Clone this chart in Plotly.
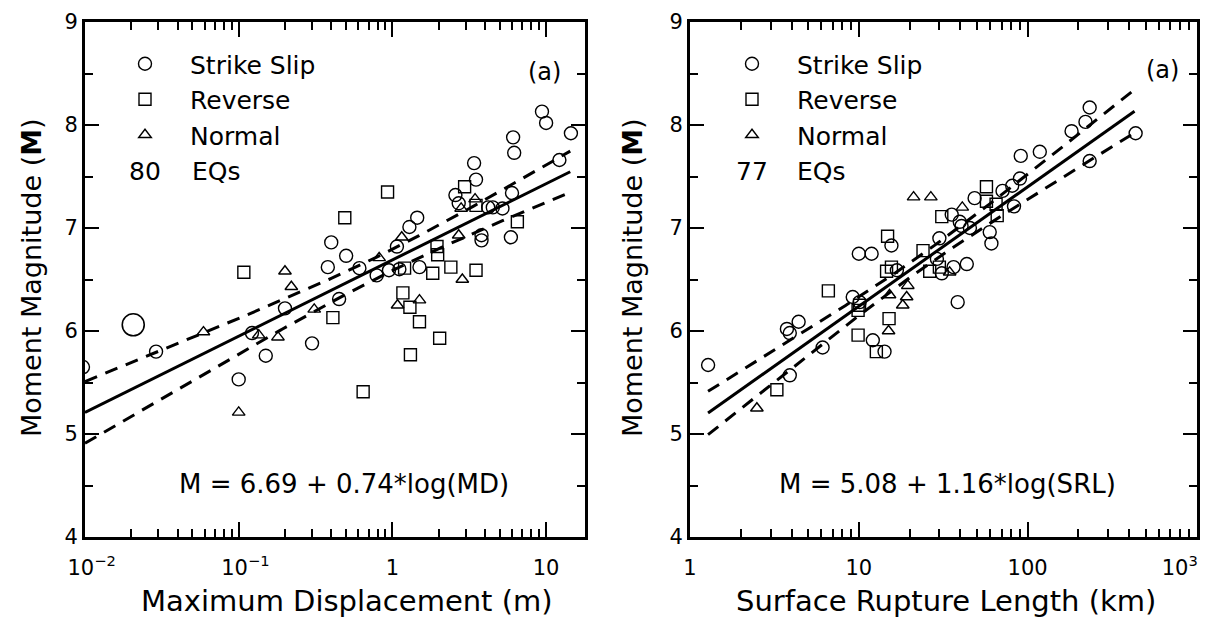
import numpy as np
import plotly.graph_objects as go

# ---------------- data: left panel (Maximum Displacement) ----------------
ss_md = [0.0097, 0.029, 0.10, 0.122, 0.15, 0.20, 0.30, 0.38, 0.40, 0.45, 0.50, 0.61, 0.79,
         0.95, 1.07, 1.11, 1.29, 1.45, 1.5, 2.57, 2.7, 3.4, 3.5, 3.8, 3.8, 4.2, 4.5, 5.2,
         6.0, 5.9, 6.1, 6.2, 9.4, 10.0, 12.2, 14.5]
ss_md_m = [5.65, 5.80, 5.53, 5.98, 5.76, 6.22, 5.88, 6.62, 6.86, 6.31, 6.73, 6.61, 6.54,
           6.59, 6.82, 6.60, 7.01, 7.10, 6.62, 7.32, 7.24, 7.63, 7.47, 6.93, 6.88, 7.20, 7.20, 7.19,
           7.34, 6.91, 7.88, 7.73, 8.13, 8.02, 7.66, 7.92]
big_md = [0.0206]
big_md_m = [6.06]
rv_md = [0.108, 0.41, 0.49, 0.645, 0.93, 1.17, 1.2, 1.3, 1.31, 1.5, 1.83, 1.95, 1.97, 2.03,
         2.4, 2.95, 3.5, 3.5, 6.5]
rv_md_m = [6.57, 6.13, 7.10, 5.41, 7.35, 6.37, 6.61, 6.23, 5.77, 6.09, 6.56, 6.82, 6.74, 5.93,
           6.62, 7.40, 7.22, 6.59, 7.06]
nm_md = [0.059, 0.10, 0.135, 0.18, 0.20, 0.22, 0.31, 0.82, 1.08, 1.15, 1.5, 2.7, 2.8, 2.85, 3.45]
nm_md_m = [5.99, 5.21, 5.96, 5.94, 6.58, 6.43, 6.21, 6.71, 6.25, 6.91, 6.30, 6.93, 7.19, 6.50, 7.28]

# ---------------- data: right panel (Surface Rupture Length) ----------------
ss_srl = [1.28, 3.75, 3.9, 4.4, 3.9, 6.1, 9.2, 10.1, 10.0, 11.9, 12.1, 14.2, 15.6, 16.8, 29,
          30, 31, 35.5, 36.4, 38.5, 39.6, 40.6, 43.6, 45.5, 48.5, 59.6, 61, 71, 81, 83, 90,
          91, 118, 182, 220, 233, 233, 436]
ss_srl_m = [5.67, 6.02, 5.98, 6.09, 5.57, 5.84, 6.33, 6.28, 6.75, 6.75, 5.91, 5.80, 6.83, 6.59, 6.70,
            6.90, 6.56, 7.13, 6.62, 6.28, 7.06, 7.02, 6.65, 7.00, 7.29, 6.96, 6.85, 7.36, 7.41, 7.21, 7.48,
            7.70, 7.74, 7.94, 8.03, 8.17, 7.65, 7.92]
rv_srl = [3.27, 6.6, 9.9, 9.9, 10.1, 12.7, 14.6, 14.8, 15.1, 15.6, 24, 26.3, 30, 31, 57, 57, 65, 66]
rv_srl_m = [5.43, 6.39, 5.96, 6.20, 6.25, 5.80, 6.58, 6.92, 6.12, 6.62, 6.78, 6.58, 6.62, 7.11,
            7.40, 7.26, 7.23, 7.12]
nm_srl = [2.49, 15, 15.2, 18.2, 19.2, 19.5, 21.1, 26.7, 34.5, 41]
nm_srl_m = [5.25, 6.0, 6.35, 6.25, 6.33, 6.44, 7.30, 7.30, 6.57, 7.20]

# ---------------- regression fits (as printed on the chart) ----------------
fit_md = dict(a=6.69, b=0.74, lo=-2.0, hi=1.157, x0=-0.04, w0=0.0106, wk=0.0206)
fit_srl = dict(a=5.08, b=1.16, lo=0.107, hi=2.633, x0=1.37, w0=0.0049, wk=0.0246)

labels = ["Strike Slip", "Reverse", "Normal"]
n_eq = ["80", "77"]
eqs = ["M = 6.69 + 0.74*log(MD)", "M = 5.08 + 1.16*log(SRL)"]
xtitles = ["Maximum Displacement (m)", "Surface Rupture Length (km)"]
ytitle = "Moment Magnitude (<b>M</b>)"
md_ticks = [0.01, 0.1, 1, 10]
md_ticktext = ["\u00a0\u00a010<sup>\u22122</sup>", "\u00a0\u00a010<sup>\u22121</sup>", "1", "10"]
srl_ticks = [1, 10, 100, 1000]
srl_ticktext = ["1", "10", "100", "10<sup>3</sup>\u00a0\u00a0\u00a0\u00a0\u00a0"]

FONT = "DejaVu Sans"
OFF = 8                      # page body margin of the browser
W, H = 1208 - OFF, 626 - OFF


def px(x):
    return (x - OFF) / W


def py(y):
    return 1 - (y - OFF) / H


fig = go.Figure()


def add_points(groups, xa, ya, legend):
    syms = ["circle-open", "square-open", "triangle-up-open"]
    sizes = [13, 12, 11]
    for (xs, ys), name, sym, sz in zip(groups, labels, syms, sizes):
        fig.add_trace(go.Scatter(
            x=xs, y=ys, mode="markers", name=name, xaxis=xa, yaxis=ya,
            legend=legend, legendgroup=legend + name, showlegend=True,
            marker=dict(symbol=sym, size=sz, color="black", line=dict(color="black", width=1.4)),
        ))


add_points([(ss_md, ss_md_m), (rv_md, rv_md_m), (nm_md, nm_md_m)], "x", "y", "legend")
fig.add_trace(go.Scatter(x=big_md, y=big_md_m, mode="markers", xaxis="x", yaxis="y", showlegend=False,
                         marker=dict(symbol="circle-open", size=22, color="black",
                                     line=dict(color="black", width=1.6))))
add_points([(ss_srl, ss_srl_m), (rv_srl, rv_srl_m), (nm_srl, nm_srl_m)], "x2", "y2", "legend2")


def add_fit(f, xa, ya):
    lx = np.linspace(f["lo"], f["hi"], 200)
    m = f["a"] + f["b"] * lx
    w = np.sqrt(f["w0"] + f["wk"] * (lx - f["x0"]) ** 2)
    xs = 10 ** lx
    fig.add_trace(go.Scatter(x=xs, y=m, mode="lines", xaxis=xa, yaxis=ya, showlegend=False,
                             line=dict(color="black", width=3)))
    for sgn in (1, -1):
        fig.add_trace(go.Scatter(x=xs, y=m + sgn * w, mode="lines", xaxis=xa, yaxis=ya, showlegend=False,
                                 line=dict(color="black", width=3, dash="13px,9px")))


add_fit(fit_md, "x", "y")
add_fit(fit_srl, "x2", "y2")


def minor_vals(lo, hi):
    out = []
    for d in range(lo, hi):
        for k in range(2, 10):
            out.append(k * 10.0 ** d)
    return out


yd = [py(537), py(22)]
axis_common = dict(showgrid=False, zeroline=False, showline=True, linecolor="black", linewidth=3,
                   mirror="allticks", ticks="inside", tickcolor="black", tickwidth=2,
                   ticklabeloverflow="allow",
                   tickfont=dict(family=FONT, size=21, color="black"))
yminor = dict(tickvals=[4.5, 5.5, 6.5, 7.5, 8.5], ticks="inside", ticklen=8, tickwidth=1.5, tickcolor="black")

fig.update_layout(
    width=W, height=H, margin=dict(l=0, r=0, t=0, b=0, autoexpand=False),
    paper_bgcolor="white", plot_bgcolor="white",
    font=dict(family=FONT, color="black"),
    xaxis=dict(type="log", domain=[px(85), px(585)], range=[-2, 1.253], anchor="y",
               tickvals=md_ticks, ticktext=md_ticktext, ticklen=15, ticklabelstandoff=10,
               minor=dict(tickvals=minor_vals(-2, 2), ticks="inside", ticklen=8, tickwidth=1.5,
                          tickcolor="black"),
               **axis_common),
    yaxis=dict(domain=yd, range=[4, 9], anchor="x", tickvals=[4, 5, 6, 7, 8, 9], ticklen=14,
               minor=yminor, **axis_common),
    xaxis2=dict(type="log", domain=[px(690), px(1197)], range=[0, 3.003], anchor="y2",
                tickvals=srl_ticks, ticktext=srl_ticktext, ticklen=15, ticklabelstandoff=10,
                minor=dict(tickvals=minor_vals(0, 3), ticks="inside", ticklen=8, tickwidth=1.5,
                           tickcolor="black"),
                **axis_common),
    yaxis2=dict(domain=yd, range=[4, 9], anchor="x2", tickvals=[4, 5, 6, 7, 8, 9], ticklen=14,
                minor=yminor, **axis_common),
    legend=dict(x=px(100), y=py(41), xanchor="left", yanchor="top", bgcolor="rgba(0,0,0,0)",
                font=dict(family=FONT, size=25, color="black"), itemwidth=80, tracegroupgap=0),
    legend2=dict(x=px(707), y=py(41), xanchor="left", yanchor="top", bgcolor="rgba(0,0,0,0)",
                 font=dict(family=FONT, size=25, color="black"), itemwidth=80, tracegroupgap=0),
)

ann = []
# counts
for cx, tx, txt in [(145, 190, n_eq[0]), (752, 795, n_eq[1])]:
    ann.append(dict(x=px(cx), y=py(172), xref="paper", yref="paper", text=txt, showarrow=False,
                    xanchor="center", yanchor="middle", font=dict(family=FONT, size=25)))
    ann.append(dict(x=px(tx), y=py(172), xref="paper", yref="paper", text="EQs", showarrow=False,
                    xanchor="left", yanchor="middle", font=dict(family=FONT, size=25)))
# (a) labels
for cx, cy in [(544, 72), (1162, 70)]:
    ann.append(dict(x=px(cx), y=py(cy), xref="paper", yref="paper", text="(a)", showarrow=False,
                    xanchor="center", yanchor="middle", font=dict(family=FONT, size=24)))
# equations
for cx, txt in [(344, eqs[0]), (947, eqs[1])]:
    ann.append(dict(x=px(cx), y=py(484), xref="paper", yref="paper", text=txt, showarrow=False,
                    xanchor="center", yanchor="middle", font=dict(family=FONT, size=26)))
# axis titles
for cx, txt in [(347, xtitles[0]), (946, xtitles[1])]:
    ann.append(dict(x=px(cx), y=py(601), xref="paper", yref="paper", text=txt, showarrow=False,
                    xanchor="center", yanchor="middle", font=dict(family=FONT, size=29)))
for cx in [31, 632]:
    ann.append(dict(x=px(cx), y=py(278), xref="paper", yref="paper", text=ytitle, showarrow=False,
                    xanchor="center", yanchor="middle", textangle=-90, font=dict(family=FONT, size=27)))
fig.update_layout(annotations=ann)

fig.write_html("out.html")
